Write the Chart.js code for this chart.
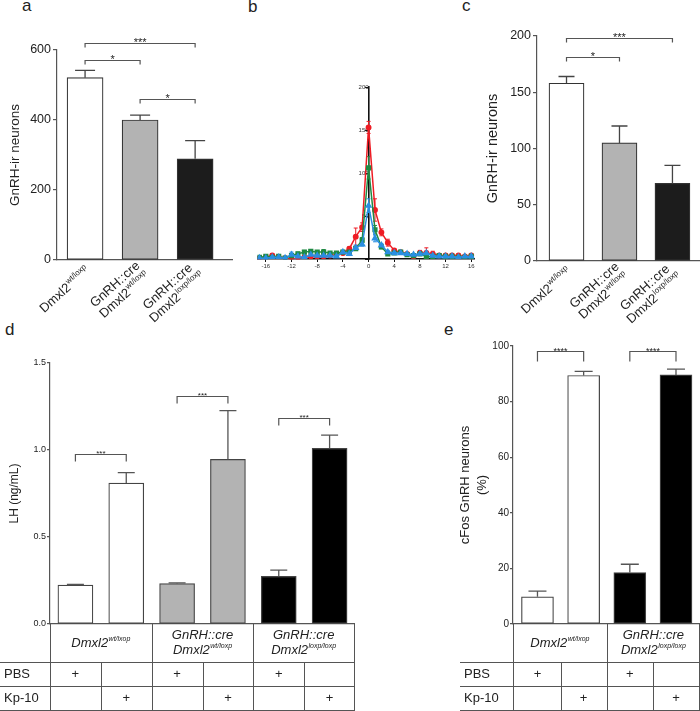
<!DOCTYPE html>
<html><head><meta charset="utf-8">
<script src="https://cdn.jsdelivr.net/npm/chart.js@4.4.1/dist/chart.umd.min.js"></script>
<style>
html,body{margin:0;padding:0;background:#fff}
body{width:700px;height:711px;overflow:hidden;position:relative;font-family:Arial,"Liberation Sans",sans-serif}
canvas{position:absolute}
.lbl{position:absolute;font-size:17px;line-height:17px;color:#222}
</style></head><body>
<div class="lbl" style="left:22px;top:-3.5px">a</div>
<div class="lbl" style="left:248px;top:-2.5px">b</div>
<div class="lbl" style="left:462px;top:-3.5px">c</div>
<div class="lbl" style="left:5px;top:321px">d</div>
<div class="lbl" style="left:444px;top:321px">e</div>
<canvas id="cb" width="240" height="220" style="left:240px;top:60px"></canvas>
<canvas id="ca" width="240" height="330" style="left:0;top:0"></canvas>
<canvas id="cc" width="240" height="330" style="left:460px;top:0"></canvas>
<canvas id="cd" width="460" height="381" style="left:0;top:330px"></canvas>
<canvas id="ce" width="260" height="381" style="left:440px;top:330px"></canvas>
<script>
// ---------------- DATA ----------------
const genotypes = ['Dmxl2^wt/loxp', 'GnRH::cre|Dmxl2^wt/loxp', 'GnRH::cre|Dmxl2^loxp/loxp'];
const gnrhCountA = [521, 400, 289];
const gnrhErrA = [21, 14, 52];
const gnrhCountC = [158, 105, 69];
const gnrhErrC = [6, 15, 16];
const sigA = [[0, 2, 620, '***'], [0, 1, 571, '*'], [1, 2, 460, '*']];
const sigC = [[0, 2, 198, '***'], [0, 1, 181, '*']];

const distPositions = [-17,-16,-15,-14,-13,-12,-11,-10,-9,-8,-7,-6,-5,-4,-3,-2,-1,0,1,2,3,4,5,6,7,8,9,10,11,12,13,14,15,16];
const distRed   = [1,2,4,2,1,0,1,2,3,3,3,4,5,7,12,26,37,153,57,31,19,10,8,6,3,7,7,6,4,4,4,4,3,4];
const distRedErr= [1,1,2,1,1,1,1,1,1,1,1,1,1,2,2,10,5,7,13,4,4,2,1,1,1,3,6,3,1,1,1,1,1,1];
const distGreen = [2,3,2,3,1,4,6,8,9,8,8,7,7,8,8,12,22,106,34,14,6,7,8,5,4,6,3,3,4,3,3,2,2,3];
const distGreenErr=[1,1,1,1,1,2,2,2,2,1,3,1,1,2,1,2,3,13,5,2,1,1,1,1,1,1,1,1,1,1,1,1,1,1];
const distBlue  = [1,1,2,2,1,5,3,2,5,4,4,4,3,8,6,13,17,62,24,16,8,7,7,6,5,6,7,4,3,3,3,2,3,3];
const distBlueErr=[1,1,1,1,1,3,1,1,2,2,2,1,1,2,2,3,2,8,4,2,2,1,1,1,1,1,2,1,1,1,1,1,1,1];
const distXTicks = [-16,-12,-8,-4,0,4,8,12,16];

const lhGroups = ['Dmxl2^wt/lxop', 'GnRH::cre|Dmxl2^wt/loxp', 'GnRH::cre|Dmxl2^loxp/loxp'];
const treatments = ['PBS', 'Kp-10'];
const lhTreatment = ['PBS','Kp-10','PBS','Kp-10','PBS','Kp-10'];
const lhValues = [0.224, 0.81, 0.232, 0.946, 0.274, 1.01];
const lhErr = [0.003, 0.06, 0.004, 0.28, 0.036, 0.075];
const sigD = [[0, 1, 0.977, '***'], [2, 3, 1.31, '***'], [4, 5, 1.184, '***']];

const cfosGroups = ['Dmxl2^wt/lxop', 'GnRH::cre|Dmxl2^loxp/loxp'];
const cfosTreatment = ['PBS','Kp-10','PBS','Kp-10'];
const cfosValues = [9.8, 89.4, 18.5, 89.6];
const cfosErr = [2.0, 1.5, 3.0, 2.1];
const sigE = [[0, 1, 98.3, '****'], [2, 3, 98.3, '****']];

// ---------------- HELPERS ----------------
const FAM = 'Arial, "Liberation Sans", Helvetica, sans-serif';
Chart.defaults.font.family = FAM;
Chart.defaults.animation = false;
Chart.defaults.plugins.legend.display = false;
Chart.defaults.plugins.tooltip.enabled = false;
Chart.defaults.color = '#222';

function parseRich(s){ const k = s.indexOf('^'); return k < 0 ? [s, ''] : [s.slice(0, k), s.slice(k + 1)]; }
function fnt(size, italic){ return (italic ? 'italic ' : '') + size + 'px ' + FAM; }
function richW(ctx, s, size, sup, italic){
  const [m, p] = parseRich(s);
  ctx.font = fnt(size, italic); let w = ctx.measureText(m).width;
  if (p) { ctx.font = fnt(sup, italic); w += ctx.measureText(p).width + 0.5; }
  return w;
}
function drawRich(ctx, s, x, y, size, sup, italic){
  const [m, p] = parseRich(s);
  ctx.textAlign = 'left'; ctx.textBaseline = 'middle';
  ctx.font = fnt(size, italic); ctx.fillText(m, x, y);
  if (p) { const w = ctx.measureText(m).width; ctx.font = fnt(sup, italic); ctx.fillText(p, x + w + 0.5, y - size * 0.32); }
}
const px = v => Math.round(v) + 0.5;

function barErrPlugin(errs, capHalf, color, width){
  return { id: 'barErr', afterDatasetsDraw(chart){
    const ctx = chart.ctx, ys = chart.scales.y, ds = chart.data.datasets[0];
    const meta = chart.getDatasetMeta(0);
    ctx.save(); ctx.strokeStyle = color; ctx.lineWidth = width;
    meta.data.forEach((el, i) => {
      const yt = ys.getPixelForValue(ds.data[i].y + errs[i]);
      ctx.beginPath();
      ctx.moveTo(el.x, el.y); ctx.lineTo(el.x, yt);
      ctx.moveTo(el.x - capHalf, yt); ctx.lineTo(el.x + capHalf, yt);
      ctx.stroke();
    });
    ctx.restore();
  }};
}
function bracketPlugin(items, tick, fontSize, color){
  return { id: 'brackets', afterDraw(chart){
    const ctx = chart.ctx, xs = chart.scales.x, ys = chart.scales.y;
    ctx.save(); ctx.strokeStyle = color; ctx.fillStyle = '#222'; ctx.lineWidth = 1.2;
    items.forEach(([i, j, v, lab]) => {
      const x1 = xs.getPixelForValue(i), x2 = xs.getPixelForValue(j), y = px(ys.getPixelForValue(v));
      ctx.beginPath();
      ctx.moveTo(x1, y + tick); ctx.lineTo(x1, y); ctx.lineTo(x2, y); ctx.lineTo(x2, y + tick);
      ctx.stroke();
      ctx.font = fnt(fontSize, false); ctx.textAlign = 'center'; ctx.textBaseline = 'alphabetic';
      ctx.fillText(lab, (x1 + x2) / 2, y - 1 + fontSize * 0.35);
    });
    ctx.restore();
  }};
}
function yTitlePlugin(lines, cx, size, lh){
  return { id: 'ytitle', afterDraw(chart){
    const ctx = chart.ctx, a = chart.chartArea;
    ctx.save(); ctx.fillStyle = '#222'; ctx.font = fnt(size, false);
    ctx.textAlign = 'center'; ctx.textBaseline = 'middle';
    const cy = (a.top + a.bottom) / 2;
    lines.forEach((t, k) => {
      ctx.save(); ctx.translate(cx + (k - (lines.length - 1) / 2) * lh, cy); ctx.rotate(-Math.PI / 2);
      ctx.fillText(t, 0, 0); ctx.restore();
    });
    ctx.restore();
  }};
}
function xLabelPlugin(labels, size, sup, angleDeg, dx, dy, lh){
  return { id: 'xlabels', afterDraw(chart){
    const ctx = chart.ctx, xs = chart.scales.x, a = chart.chartArea;
    ctx.save(); ctx.fillStyle = '#222';
    labels.forEach((lab, i) => {
      const lines = lab.split('|');
      const ws = lines.map(l => richW(ctx, l, size, sup, false));
      const W = Math.max(...ws);
      ctx.save();
      ctx.translate(xs.getPixelForValue(i) + dx, a.bottom + dy);
      ctx.rotate(-angleDeg * Math.PI / 180);
      lines.forEach((l, k) => {
        const yy = (k - (lines.length - 1) / 2) * lh;
        drawRich(ctx, l, -W / 2 - ws[k] / 2, yy, size, sup, false);
      });
      ctx.restore();
    });
    ctx.restore();
  }};
}
function tablePlugin(cfg){
  return { id: 'table', afterDraw(chart){
    const ctx = chart.ctx, xs = chart.scales.x, a = chart.chartArea, H = chart.height;
    const n = cfg.treat.length, nG = cfg.groups.length, per = n / nG;
    const gBot = a.bottom + cfg.groupH;
    const right = Math.min(px(a.right), chart.width - 0.5);
    const bottom = Math.min(gBot + 2 * cfg.rowH, H - 1);
    ctx.save(); ctx.strokeStyle = '#555'; ctx.lineWidth = 1;
    ctx.beginPath();
    ctx.moveTo(px(a.left), a.bottom); ctx.lineTo(px(a.left), H);
    ctx.moveTo(right, a.bottom); ctx.lineTo(right, H);
    for (let g = 1; g < nG; g++) { const x = px(xs.getPixelForValue(g * per - 0.5)); ctx.moveTo(x, a.bottom); ctx.lineTo(x, H); }
    for (let g = 0; g < nG; g++) { const x = px(xs.getPixelForValue(g * per + 0.5)); ctx.moveTo(x, gBot); ctx.lineTo(x, H); }
    [gBot, gBot + cfg.rowH, bottom].forEach(y => { ctx.moveTo(cfg.left, px(y)); ctx.lineTo(right, px(y)); });
    ctx.stroke();
    ctx.fillStyle = '#222';
    // group labels
    cfg.groups.forEach((lab, g) => {
      const x1 = g === 0 ? a.left : xs.getPixelForValue(g * per - 0.5);
      const x2 = g === nG - 1 ? a.right : xs.getPixelForValue((g + 1) * per - 0.5);
      const cx = (x1 + x2) / 2;
      const lines = lab.split('|');
      lines.forEach((l, k) => {
        const w = richW(ctx, l, cfg.gSize, cfg.gSup, true);
        const yy = a.bottom + cfg.groupH / 2 + (k - (lines.length - 1) / 2) * cfg.gLh;
        drawRich(ctx, l, cx - w / 2, yy, cfg.gSize, cfg.gSup, true);
      });
    });
    // rows
    ctx.font = fnt(cfg.rSize, false); ctx.textBaseline = 'middle';
    cfg.rows.forEach((r, k) => {
      const cy = gBot + cfg.rowH * (k + 0.5) + 0.5;
      ctx.textAlign = 'left'; ctx.fillText(r, cfg.left + 4, cy);
      ctx.textAlign = 'center';
      cfg.treat.forEach((t, i) => { if (t === r) ctx.fillText('+', xs.getPixelForValue(i), cy); });
    });
    ctx.restore();
  }};
}
function barChart(id, o){
  return new Chart(document.getElementById(id), {
    type: 'bar',
    data: { datasets: [{
      data: o.values.map((v, i) => ({ x: i, y: v })),
      backgroundColor: o.colors, borderColor: o.border, borderWidth: o.bw,
      borderSkipped: false, barThickness: o.barW
    }]},
    options: {
      responsive: false, maintainAspectRatio: false,
      layout: { padding: o.padding },
      scales: {
        x: { type: 'linear', min: o.xmin, max: o.xmax, offset: false,
             ticks: { display: false }, grid: { display: false },
             border: { display: true, color: '#555', width: 1.2 },
             afterFit: s => { s.height = o.xH; } },
        y: { min: 0, max: o.ymax, beginAtZero: true,
             ticks: { stepSize: o.step, font: { size: o.tickSize }, color: '#222', padding: o.tickPad, callback: o.fmt },
             grid: { drawOnChartArea: false, drawTicks: true, tickLength: o.tickLen, color: '#555', lineWidth: 1.2 },
             border: { display: true, color: '#555', width: 1.2 },
             afterFit: s => { s.width = o.yW; } }
      }
    },
    plugins: o.plugins
  });
}

// ---------------- PANEL a ----------------
barChart('ca', {
  values: gnrhCountA, colors: ['#ffffff', '#b3b3b3', '#1c1c1c'], border: '#333', bw: 1.2, barW: 36,
  padding: { top: 50, right: 8, left: 0, bottom: 0 }, xmin: -0.51, xmax: 2.67, xH: 70, yW: 57,
  ymax: 600, step: 200, tickSize: 12.5, tickPad: 2, tickLen: 4, fmt: v => v,
  plugins: [barErrPlugin(gnrhErrA, 10, '#444', 1.3), bracketPlugin(sigA, 4, 11, '#555'),
            yTitlePlugin(['GnRH-ir neurons'], 15, 13.5, 16), xLabelPlugin(genotypes, 13, 8, 42, 3, 9, 14)]
});
// ---------------- PANEL c ----------------
barChart('cc', {
  values: gnrhCountC, colors: ['#ffffff', '#b3b3b3', '#1c1c1c'], border: '#333', bw: 1.2, barW: 35,
  padding: { top: 36, right: 0, left: 0, bottom: 0 }, xmin: -0.557, xmax: 2.52, xH: 69, yW: 77,
  ymax: 200, step: 50, tickSize: 12.5, tickPad: 2, tickLen: 4, fmt: v => v,
  plugins: [barErrPlugin(gnrhErrC, 8, '#444', 1.3), bracketPlugin(sigC, 4, 11, '#555'),
            yTitlePlugin(['GnRH-ir neurons'], 33, 14.5, 16), xLabelPlugin(genotypes, 13, 8, 42, 3, 9, 14)]
});
// ---------------- PANEL d ----------------
barChart('cd', {
  values: lhValues, colors: ['#ffffff','#ffffff','#b3b3b3','#b3b3b3','#000000','#000000'], border: '#444', bw: 1.2, barW: 35,
  padding: { top: 33, right: 106, left: 0, bottom: 0 }, xmin: -0.50, xmax: 5.48, xH: 87, yW: 50,
  ymax: 1.5, step: 0.5, tickSize: 9, tickPad: 1, tickLen: 3, fmt: v => v.toFixed(1),
  plugins: [barErrPlugin(lhErr, 8.5, '#555', 1.3), bracketPlugin(sigD, 7, 8, '#555'),
            yTitlePlugin(['LH (ng/mL)'], 15, 12, 16),
            tablePlugin({ groups: lhGroups, treat: lhTreatment, rows: treatments, left: 0, groupH: 38, rowH: 24,
                          gSize: 13, gSup: 7, gLh: 15, rSize: 13 })]
});
// ---------------- PANEL e ----------------
barChart('ce', {
  values: cfosValues, colors: ['#ffffff','#ffffff','#000000','#000000'], border: '#444', bw: 1.2, barW: 32,
  padding: { top: 16, right: 0, left: 0, bottom: 0 }, xmin: -0.53, xmax: 3.52, xH: 87, yW: 73,
  ymax: 100, step: 20, tickSize: 10, tickPad: 1, tickLen: 3, fmt: v => v,
  plugins: [barErrPlugin(cfosErr, 9, '#555', 1.3), bracketPlugin(sigE, 10, 9, '#555'),
            yTitlePlugin(['cFos GnRH neurons', '(%)'], 33.5, 13, 17),
            tablePlugin({ groups: cfosGroups, treat: cfosTreatment, rows: treatments, left: 20, groupH: 38, rowH: 24,
                          gSize: 13, gSup: 7, gLh: 15, rSize: 13 })]
});
// ---------------- PANEL b ----------------
function lineErrPlugin(errsList, cap){
  return { id: 'lineErr', beforeDatasetsDraw(chart){
    const ctx = chart.ctx, ys = chart.scales.y;
    ctx.save(); ctx.lineWidth = 1;
    chart.data.datasets.forEach((ds, d) => {
      const meta = chart.getDatasetMeta(d); ctx.strokeStyle = ds.borderColor;
      meta.data.forEach((el, i) => {
        const v = ds.data[i].y, e = errsList[d][i];
        const yt = ys.getPixelForValue(v + e), yb = ys.getPixelForValue(Math.max(0, v - e));
        ctx.beginPath();
        ctx.moveTo(el.x, yb); ctx.lineTo(el.x, yt);
        ctx.moveTo(el.x - cap, yt); ctx.lineTo(el.x + cap, yt);
        ctx.moveTo(el.x - cap, yb); ctx.lineTo(el.x + cap, yb);
        ctx.stroke();
      });
    });
    ctx.restore();
  }};
}
const mk = (arr) => distPositions.map((x, i) => ({ x, y: arr[i] }));
new Chart(document.getElementById('cb'), {
  type: 'line',
  data: { datasets: [
    { data: mk(distRed), borderColor: '#ee1c24', backgroundColor: '#ee1c24', pointStyle: 'circle', pointRadius: 2.2, borderWidth: 1.5, order: 3 },
    { data: mk(distGreen), borderColor: '#1f8a44', backgroundColor: '#1f8a44', pointStyle: 'rect', pointRadius: 2.6, borderWidth: 1.5, order: 2 },
    { data: mk(distBlue), borderColor: '#2a8fe2', backgroundColor: '#2a8fe2', pointStyle: 'triangle', pointRadius: 2.8, borderWidth: 1.5, order: 1 }
  ]},
  options: {
    responsive: false, maintainAspectRatio: false,
    layout: { padding: { top: 27, left: 17.5, right: 3, bottom: 0 } },
    scales: {
      x: { type: 'linear', min: -17.3, max: 16.5,
           afterBuildTicks: s => { s.ticks = distXTicks.map(v => ({ value: v })); },
           ticks: { font: { size: 6 }, color: '#333', padding: 1, maxRotation: 0, autoSkip: false },
           grid: { drawOnChartArea: false, tickLength: 3, color: '#111', lineWidth: 1 },
           border: { display: true, color: '#111', width: 1.6 },
           afterFit: s => { s.height = 21; } },
      y: { type: 'linear', position: { x: 0 }, min: 0, max: 200,
           ticks: { stepSize: 50, font: { size: 6 }, color: '#333', padding: 1, callback: v => v === 0 ? '' : v },
           grid: { drawOnChartArea: false, tickLength: 3, color: '#111', lineWidth: 1 },
           border: { display: true, color: '#111', width: 1.6 } }
    }
  },
  plugins: [lineErrPlugin([distRedErr, distGreenErr, distBlueErr], 2)]
});
</script>
</body></html>
